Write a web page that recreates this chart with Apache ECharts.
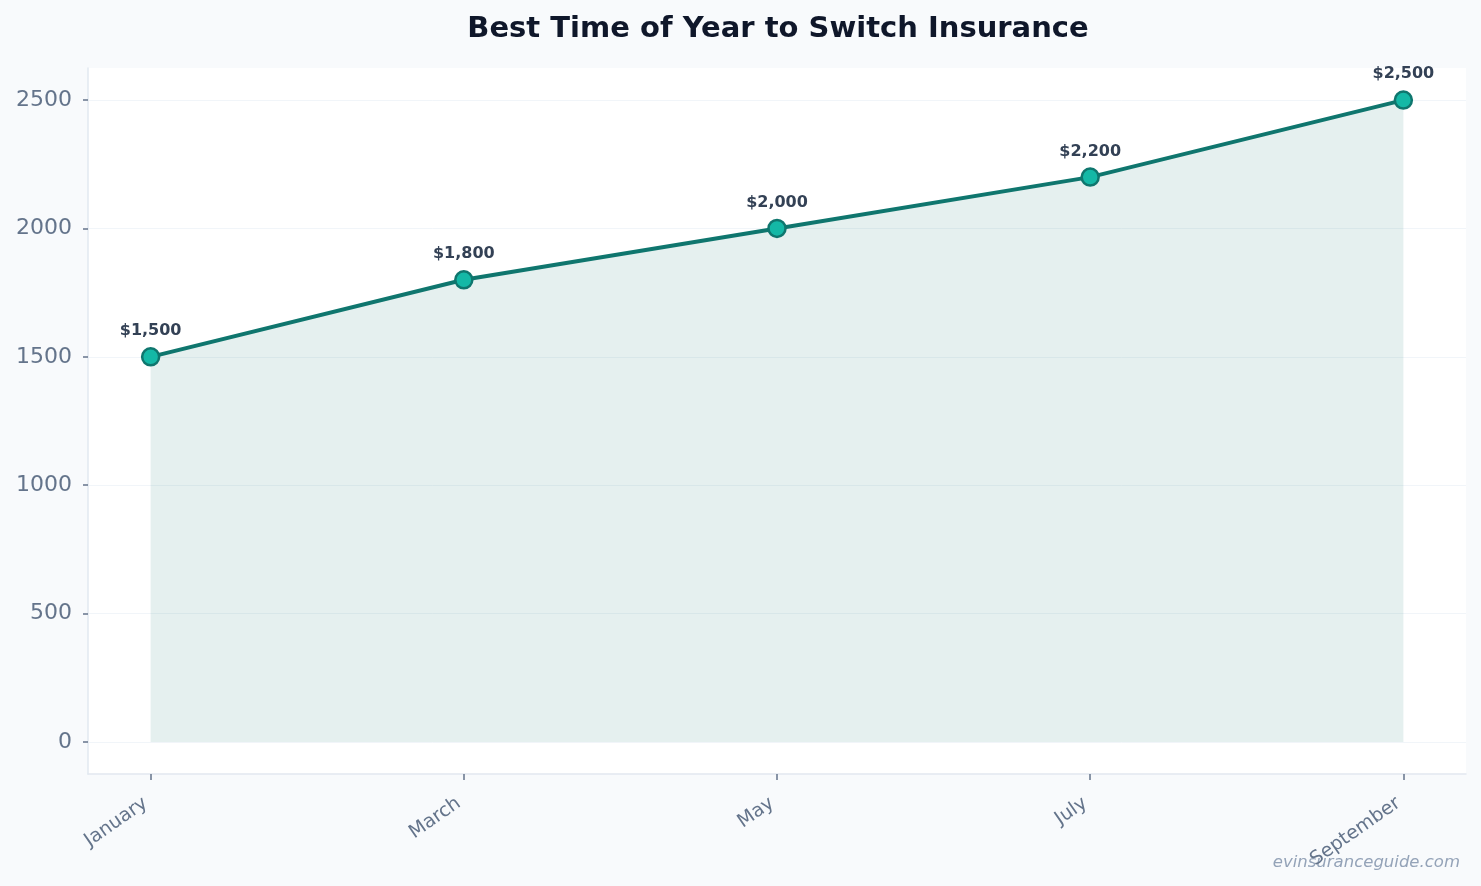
<!DOCTYPE html>
<html>
<head>
<meta charset="utf-8">
<script src="https://cdn.jsdelivr.net/npm/echarts@6/dist/echarts.min.js"></script>
<style>
  html, body { margin: 0; padding: 0; background: #f8fafc; }
  #chart { width: 1481px; height: 886px; }
</style>
</head>
<body>
<div id="chart"></div>
<script>
const categories = ['January', 'March', 'May', 'July', 'September']
const costs = [1500, 1800, 2000, 2200, 2500]
const yTicks = [0, 500, 1000, 1500, 2000, 2500]

const FONT = 'DejaVu Sans'
const xIdx = categories.map((c, i) => i)

const chart = echarts.init(document.getElementById('chart'))

chart.setOption({
  backgroundColor: '#f8fafc',
  animation: false,
  textStyle: { fontFamily: FONT },
  title: {
    text: 'Best Time of Year to Switch Insurance',
    left: 773, top: 10, textAlign: 'center',
    textStyle: { fontFamily: FONT, fontSize: 29, fontWeight: 'bold', color: '#0f172a' }
  },
  grid: {
    left: 88, right: 15, top: 68, bottom: 112,
    show: true, backgroundColor: '#ffffff', borderWidth: 0
  },
  xAxis: {
    type: 'value', min: -0.2, max: 4.2,
    axisLine: { show: true, onZero: false, lineStyle: { color: '#e2e8f0', width: 1.5 } },
    axisTick: { show: true, customValues: xIdx, length: 6, lineStyle: { color: '#64748b', width: 1.5 } },
    axisLabel: {
      customValues: xIdx, rotate: 35, margin: 24, padding: [0, 6, 0, 0],
      color: '#64748b', fontSize: 19, fontFamily: FONT,
      formatter: v => categories[v]
    },
    splitLine: { show: false }
  },
  yAxis: {
    type: 'value', min: -125, max: 2625,
    axisLine: { show: true, onZero: false, lineStyle: { color: '#e2e8f0', width: 1.5 } },
    axisTick: { show: true, customValues: yTicks, length: 5, lineStyle: { color: '#64748b', width: 1.5 } },
    axisLabel: {
      customValues: yTicks, margin: 16, color: '#64748b', fontSize: 22, fontFamily: FONT,
      formatter: v => String(v)
    },
    splitLine: { show: true, lineStyle: { color: '#f1f5f9', width: 1 } }
  },
  series: [{
    type: 'line',
    data: costs.map((v, i) => [i, v]),
    symbol: 'circle', symbolSize: 17,
    itemStyle: { color: '#14b8a6', borderColor: '#0f766e', borderWidth: 2.5 },
    lineStyle: { color: '#0f766e', width: 4 },
    areaStyle: { color: 'rgba(15,118,110,0.11)', opacity: 1, origin: 0 },
    label: {
      show: true, position: 'top', distance: 8,
      fontFamily: FONT, fontSize: 16, fontWeight: 'bold', color: '#334155',
      formatter: p => '$' + p.value[1].toLocaleString('en-US')
    },
    z: 3
  }],
  graphic: [{
    type: 'text', right: 21, bottom: 15,
    style: {
      text: 'evinsuranceguide.com',
      font: 'italic 16.5px "DejaVu Sans"', fill: '#94a3b8'
    }
  }]
})
</script>
</body>
</html>
